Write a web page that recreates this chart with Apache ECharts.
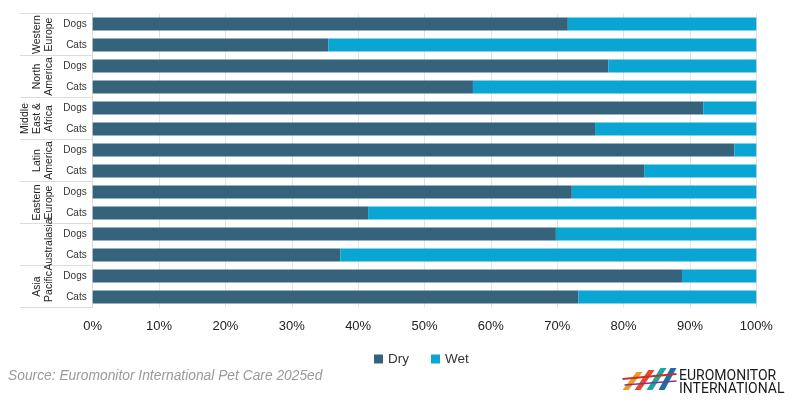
<!DOCTYPE html>
<html><head><meta charset="utf-8">
<script src="https://cdn.jsdelivr.net/npm/echarts@6/dist/echarts.min.js"></script>
<style>html,body{margin:0;padding:0;background:#fff}#c{width:809px;height:418px}</style>
</head><body><div id="c"></div>
<script>
const groups = ['Western\nEurope','North\nAmerica','Middle\nEast &\nAfrica','Latin\nAmerica','Eastern\nEurope','Australasia','Asia\nPacific'];
const categories = ['Dogs','Cats','Dogs','Cats','Dogs','Cats','Dogs','Cats','Dogs','Cats','Dogs','Cats','Dogs','Cats'];
const dry = [71.6,35.5,77.7,57.3,92.0,75.7,96.7,83.1,72.2,41.5,69.8,37.3,88.8,73.2];
const wet = dry.map(v => +(100 - v).toFixed(1));
const xTicks = ['0%','10%','20%','30%','40%','50%','60%','70%','80%','90%','100%'];

const chart = echarts.init(document.getElementById('c'));
const font = 'Liberation Sans, Arial, Helvetica, sans-serif';
chart.setOption({
  animation:false,
  textStyle:{fontFamily:font},
  grid:{left:92.7,right:52.7,top:13.5,bottom:110.5,containLabel:false},
  legend:{data:['Dry','Wet'],top:347,left:369,itemWidth:9,itemHeight:9,itemGap:22,icon:'rect',
    textStyle:{fontSize:13.5,color:'#333',fontFamily:font}},
  xAxis:{type:'value',min:0,max:100,interval:10,
    axisLabel:{formatter:(v)=>xTicks[Math.round(v/10)],fontSize:13,color:'#222',margin:12},
    splitLine:{lineStyle:{color:'#e3e3e3'}},axisLine:{show:false},axisTick:{show:false}},
  yAxis:[
    {type:'category',data:categories,inverse:true,
      axisLabel:{fontSize:10,color:'#333',margin:6,interval:0},
      axisLine:{show:false},axisTick:{show:false}},
    {type:'category',data:groups,inverse:true,position:'left',
      axisLine:{show:true,lineStyle:{color:'#dcdcdc'}},
      axisTick:{show:true,interval:0,length:72.5,lineStyle:{color:'#dcdcdc'}},
      axisLabel:{rotate:90,interval:0,fontSize:10.5,color:'#222',margin:38,lineHeight:12,align:'center',verticalAlign:'bottom'}}
  ],
  series:[
    {name:'Dry',type:'bar',stack:'a',data:dry,barWidth:'62%',itemStyle:{color:'#35637c'}},
    {name:'Wet',type:'bar',stack:'a',data:wet,barWidth:'62%',itemStyle:{color:'#0ba5d3'}}
  ],
  graphic:[
    {type:'text',left:8,top:369,style:{text:'Source: Euromonitor International Pet Care 2025ed',fontSize:13.8,fontStyle:'italic',fill:'#9a9a9a',fontFamily:font}},
    {type:'group',left:620,top:368,children:[
      {type:'polygon',shape:{points:[[0,24],[14,6],[20,6],[6,24]]},style:{fill:'#f39a1e'}},
      {type:'polygon',shape:{points:[[12,24],[26,4],[32,4],[18,24]]},style:{fill:'#e8452c'}},
      {type:'polygon',shape:{points:[[24,24],[38,2],[44,2],[30,24]]},style:{fill:'#1aa7a0'}},
      {type:'polygon',shape:{points:[[36,24],[48,2],[54,2],[42,24]]},style:{fill:'#1b6fa8'}},
      {type:'line',shape:{x1:0,y1:13,x2:54,y2:8},style:{stroke:'#c9302c',lineWidth:2}},
      {type:'line',shape:{x1:2,y1:19,x2:54,y2:15},style:{stroke:'#7a3b8c',lineWidth:1.5}}
    ]},
    {type:'text',left:679,top:369,style:{text:'EUROMONITOR',fontSize:14,fill:'#1a1a1a',fontFamily:'Roboto, '+font}},
    {type:'text',left:679,top:382,style:{text:'INTERNATIONAL',fontSize:14,fill:'#1a1a1a',fontFamily:'Roboto, '+font}}
  ]
});
</script></body></html>
